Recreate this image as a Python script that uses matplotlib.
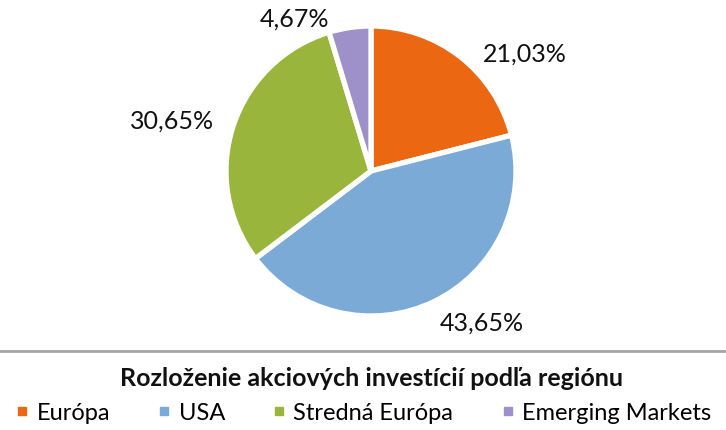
import matplotlib
matplotlib.use("Agg")
import matplotlib.pyplot as plt
from matplotlib.lines import Line2D

categories = ["Európa", "USA", "Stredná Európa", "Emerging Markets"]
values = [21.03, 43.65, 30.65, 4.67]
labels = ["21,03%", "43,65%", "30,65%", "4,67%"]
colors = ["#EC6711", "#7BAAD7", "#9AB53B", "#9E90C8"]
title = "Rozloženie akciových investícií podľa regiónu"

# layout: label anchor positions (axes data units, pie radius = 1)
label_pos = [(0.775, 0.81), (0.475, -1.04), (-1.08, 0.35), (-0.285, 1.055)]

plt.rcParams['font.family'] = ['Lato', 'DejaVu Sans']

W, H = 726, 431
fig = plt.figure(figsize=(W / 100, H / 100), dpi=100)
cx, cy, r = 371, 172, 145
ax = fig.add_axes([(cx - r) / W, (H - cy - r) / H, 2 * r / W, 2 * r / H])
wedges, texts = ax.pie(values, colors=colors, startangle=90, counterclock=False,
                       labels=labels, labeldistance=1.12,
                       wedgeprops=dict(edgecolor="white", linewidth=3.8),
                       textprops=dict(fontsize=18, color="#111111"))
for t, p in zip(texts, label_pos):
    t.set_position(p)
    t.set_ha("left" if p[0] > 0 else "right")
    t.set_va("center")
ax.set_xlim(-1, 1)
ax.set_ylim(-1, 1)

fig.add_artist(Line2D([0, 1], [1 - 352 / H, 1 - 352 / H], transform=fig.transFigure,
                      color="#A6A6A6", linewidth=2))
fig.text(372 / W, 1 - 379 / H, title, ha="center", va="center",
         fontsize=18, fontweight="bold", color="#111111")

handles = [Line2D([], [], marker="s", linestyle="none", markersize=6,
                  markerfacecolor=c, markeredgecolor=c) for c in colors]
fig.legend(handles, categories, loc="center", bbox_to_anchor=(362 / W, 1 - 414 / H),
           ncol=4, frameon=False, fontsize=17, handletextpad=0.2,
           columnspacing=1.9, handlelength=0.8, borderpad=0)

fig.savefig("out.png", dpi=100)
